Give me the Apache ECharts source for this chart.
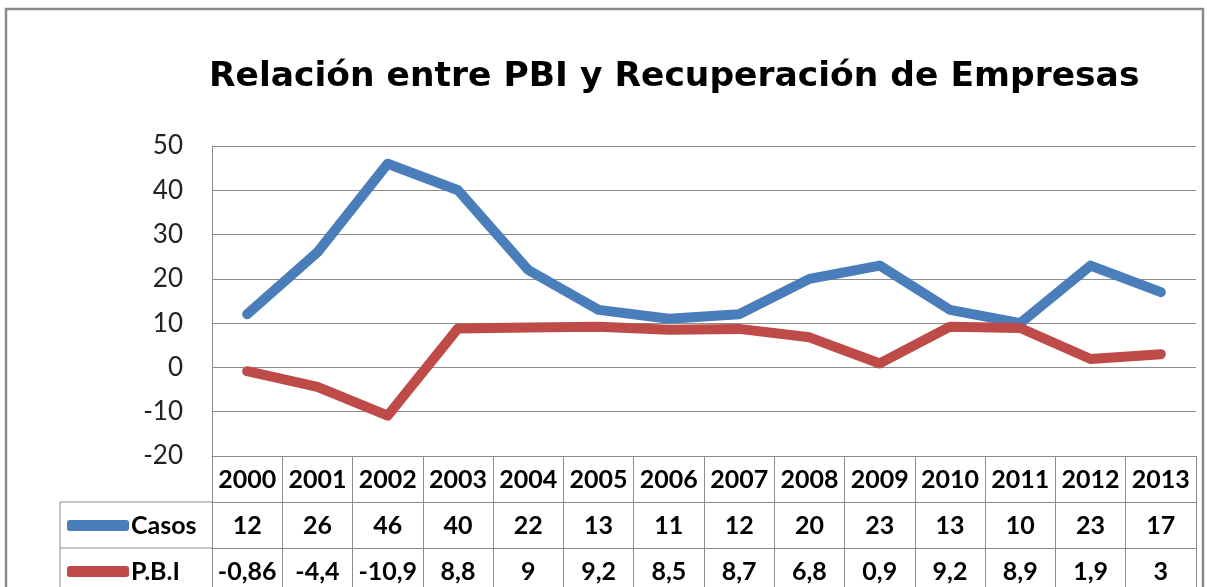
<!DOCTYPE html>
<html>
<head>
<meta charset="utf-8">
<title>Relación entre PBI y Recuperación de Empresas</title>
<script src="https://cdn.jsdelivr.net/npm/echarts@6/dist/echarts.min.js"></script>
<style>
    html, body { margin: 0; padding: 0; background: #fff; }
    #chart { width: 1207px; height: 587px; }
</style>
</head>
<body>
<div id="chart"></div>
<script>
    // datos
    const years = ['2000', '2001', '2002', '2003', '2004', '2005', '2006', '2007', '2008', '2009', '2010', '2011', '2012', '2013'];
    const casos = [12, 26, 46, 40, 22, 13, 11, 12, 20, 23, 13, 10, 23, 17];
    const pbi = [-0.86, -4.4, -10.9, 8.8, 9, 9.2, 8.5, 8.7, 6.8, 0.9, 9.2, 8.9, 1.9, 3];
    const yTicks = { min: -20, max: 50, interval: 10 };

    const font = 'Lato, "Liberation Sans", sans-serif';
    const titleFont = '"DejaVu Sans", "Open Sans", sans-serif';
    const gridColor = '#8c8c8c';
    const colors = ['#4a7ebb', '#be4b48'];

    // formato con coma decimal, como en la tabla
    const fmt = v => String(v).replace('.', ',');

    const chart = echarts.init(document.getElementById('chart'));

    const cellText = {
        fontFamily: font,
        fontSize: 25,
        lineHeight: 25,
        fontWeight: 'bold',
        color: '#000'
    };
    const cellLabel = Object.assign({ margin: 11, interval: 0 }, cellText);

    const tableAxis = (data, offset) => ({
        type: 'category',
        data: data,
        boundaryGap: true,
        position: 'bottom',
        offset: offset,
        axisLine: { show: true, onZero: false, lineStyle: { color: gridColor, width: 1 } },
        axisTick: offset === 0
            ? { show: true, alignWithLabel: false, length: 140, lineStyle: { color: gridColor } }
            : { show: false },
        axisLabel: cellLabel
    });

    const legendRow = (name, top) => ({
        orient: 'vertical',
        left: 67,
        top: top,
        padding: 0,
        itemWidth: 62,
        itemHeight: 11,
        icon: 'roundRect',
        textStyle: Object.assign({ padding: [0, 0, 0, -3] }, cellText),
        data: [name]
    });

    const option = {
        color: colors,
        animation: false,
        title: {
            text: 'Relación entre PBI y Recuperación de Empresas',
            left: 204,
            top: 55,
            textStyle: {
                fontFamily: titleFont,
                fontSize: 34.5,
                fontWeight: 'bold',
                color: '#000'
            }
        },
        legend: [
            legendRow('Casos', 513),
            legendRow('P.B.I', 559)
        ],
        grid: {
            left: 212,
            right: 11,
            top: 146,
            bottom: 131,
            containLabel: false
        },
        xAxis: [
            tableAxis(years, 0),
            tableAxis(casos.map(fmt), 46),
            tableAxis(pbi.map(fmt), 92)
        ],
        yAxis: {
            type: 'value',
            min: yTicks.min,
            max: yTicks.max,
            interval: yTicks.interval,
            axisLine: { show: true, lineStyle: { color: gridColor } },
            axisTick: { show: false },
            splitLine: { show: true, lineStyle: { color: gridColor, width: 1 } },
            axisLabel: {
                fontFamily: font,
                fontSize: 26,
                color: '#222',
                margin: 29
            }
        },
        series: [
            {
                name: 'Casos',
                type: 'line',
                data: casos,
                symbol: 'none',
                lineStyle: { width: 10, cap: 'round', join: 'round' }
            },
            {
                name: 'P.B.I',
                type: 'line',
                data: pbi,
                symbol: 'none',
                lineStyle: { width: 10, cap: 'round', join: 'round' }
            }
        ],
        graphic: [
            // marco exterior
            { type: 'rect', shape: { x: 6, y: 9, width: 1197, height: 600 }, style: { fill: 'none', stroke: '#8a8a8a', lineWidth: 2.5 }, silent: true },
            // columna de leyenda de la tabla
            { type: 'line', shape: { x1: 60, y1: 502, x2: 212, y2: 502 }, style: { stroke: gridColor, lineWidth: 1 }, silent: true },
            { type: 'line', shape: { x1: 60, y1: 548, x2: 212, y2: 548 }, style: { stroke: gridColor, lineWidth: 1 }, silent: true },
            { type: 'line', shape: { x1: 60, y1: 502, x2: 60, y2: 600 }, style: { stroke: gridColor, lineWidth: 1 }, silent: true }
        ]
    };

    chart.setOption(option);
</script>
</body>
</html>
